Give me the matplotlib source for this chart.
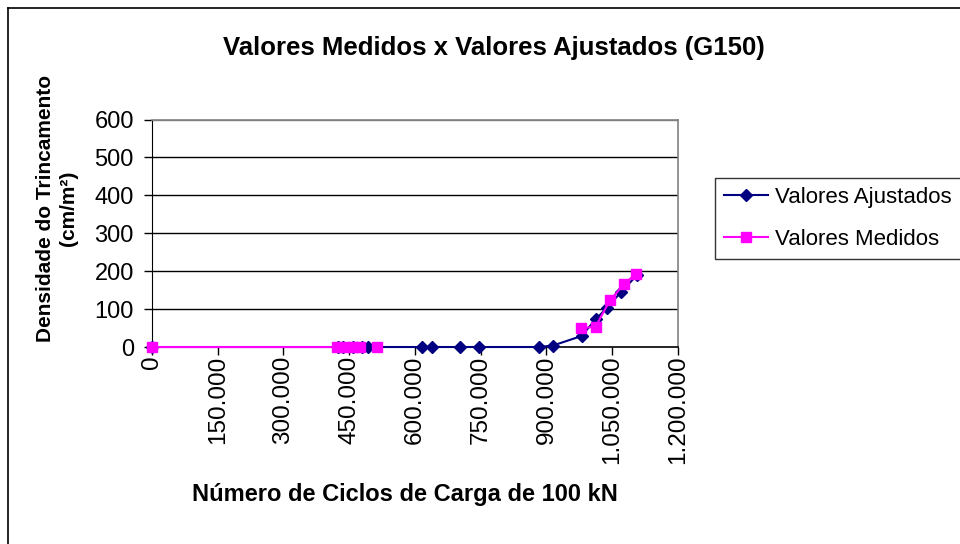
import matplotlib
matplotlib.use("Agg")
import matplotlib.pyplot as plt
import numpy as np
from matplotlib.lines import Line2D
from matplotlib.ticker import FuncFormatter

plt.rcParams['font.family'] = ['Liberation Sans', 'DejaVu Sans']

# fitted values (diamonds)
ciclos_ajust = [0, 424000, 436000, 458000, 480000, 492000, 615000, 638000,
                702000, 747000, 883000, 915000, 980000, 1013000, 1037000,
                1071000, 1106000]
dens_ajust = [0, 0, 0, 0, 0, 0, 0, 0, 0, 0, 0, 4, 29, 74, 102, 146, 189]

# measured values (squares); nan = empty cell, breaks the line
ciclos_med = [0, 422000, 440000, 458000, 475000, np.nan, 513000, np.nan,
              979000, 1012000, 1045000, 1077000, 1104000]
dens_med = [0, 0, 0, 0, 0, np.nan, 0, np.nan, 49, 54, 123, 166, 193]

x_ticks = [0, 150000, 300000, 450000, 600000, 750000, 900000, 1050000, 1200000]
y_ticks = [0, 100, 200, 300, 400, 500, 600]

fig = plt.figure(figsize=(9.6, 5.44), dpi=100)
ax = fig.add_axes([0.1583, 0.3621, 0.5479, 0.4182])

for y in y_ticks[1:]:
    ax.axhline(y, color='black' if y < 600 else '#808080', lw=1, zorder=1)

ax.plot(ciclos_ajust, dens_ajust, color='#000080', marker='D', ms=6.5,
        lw=1.5, label='Valores Ajustados', zorder=3, clip_on=False)
ax.plot(ciclos_med, dens_med, color='#FF00FF', marker='s', ms=7,
        lw=1.5, label='Valores Medidos', zorder=4, clip_on=False)

ax.set_xlim(0, 1200000)
ax.set_ylim(0, 600)
ax.set_xticks(x_ticks)
ax.set_yticks(y_ticks)
ax.xaxis.set_major_formatter(FuncFormatter(lambda v, p: f"{int(v):,}".replace(',', '.')))
ax.tick_params(axis='x', labelrotation=90, labelsize=17.5, length=6,
               direction='out', width=1, pad=0)
ax.tick_params(axis='y', labelsize=17, length=6, direction='out', width=1, pad=7)
for lab in ax.get_xticklabels():
    lab.set_verticalalignment('top')

for s in ['top', 'right']:
    ax.spines[s].set_color('#808080')
    ax.spines[s].set_linewidth(1.2)
ax.spines['left'].set_color('black')
ax.spines['bottom'].set_color('black')
ax.spines['bottom'].set_linewidth(1.2)

fig.text(494 / 960, 1 - 48 / 544, 'Valores Medidos x Valores Ajustados (G150)',
         fontsize=18.5, fontweight='bold', ha='center', va='center')
fig.text(405 / 960, 1 - 495 / 544, 'Número de Ciclos de Carga de 100 kN',
         fontsize=17, fontweight='bold', ha='center', va='center')
fig.text(57 / 960, 1 - 208 / 544, 'Densidade do Trincamento\n(cm/m²)',
         fontsize=15, fontweight='bold', ha='center', va='center',
         rotation=90, linespacing=1.25)

# legend box runs off the right edge, as in the original
leg = ax.legend(loc='upper left',
                bbox_to_anchor=(715 / 960, 1 - 259 / 544, 260 / 960, 81 / 544),
                mode='expand', bbox_transform=fig.transFigure, borderaxespad=0,
                fontsize=16, frameon=True, fancybox=False, edgecolor='black',
                handlelength=2.0, handletextpad=0.3, borderpad=0.4,
                labelspacing=0.95)
leg.get_frame().set_linewidth(1)

# outer chart border
fig.add_artist(Line2D([8 / 960, 8 / 960], [0, 1 - 8 / 544], color='black',
                      lw=1.2, transform=fig.transFigure))
fig.add_artist(Line2D([8 / 960, 1], [1 - 8 / 544, 1 - 8 / 544], color='black',
                      lw=1.2, transform=fig.transFigure))

fig.savefig('out.png', dpi=100)
